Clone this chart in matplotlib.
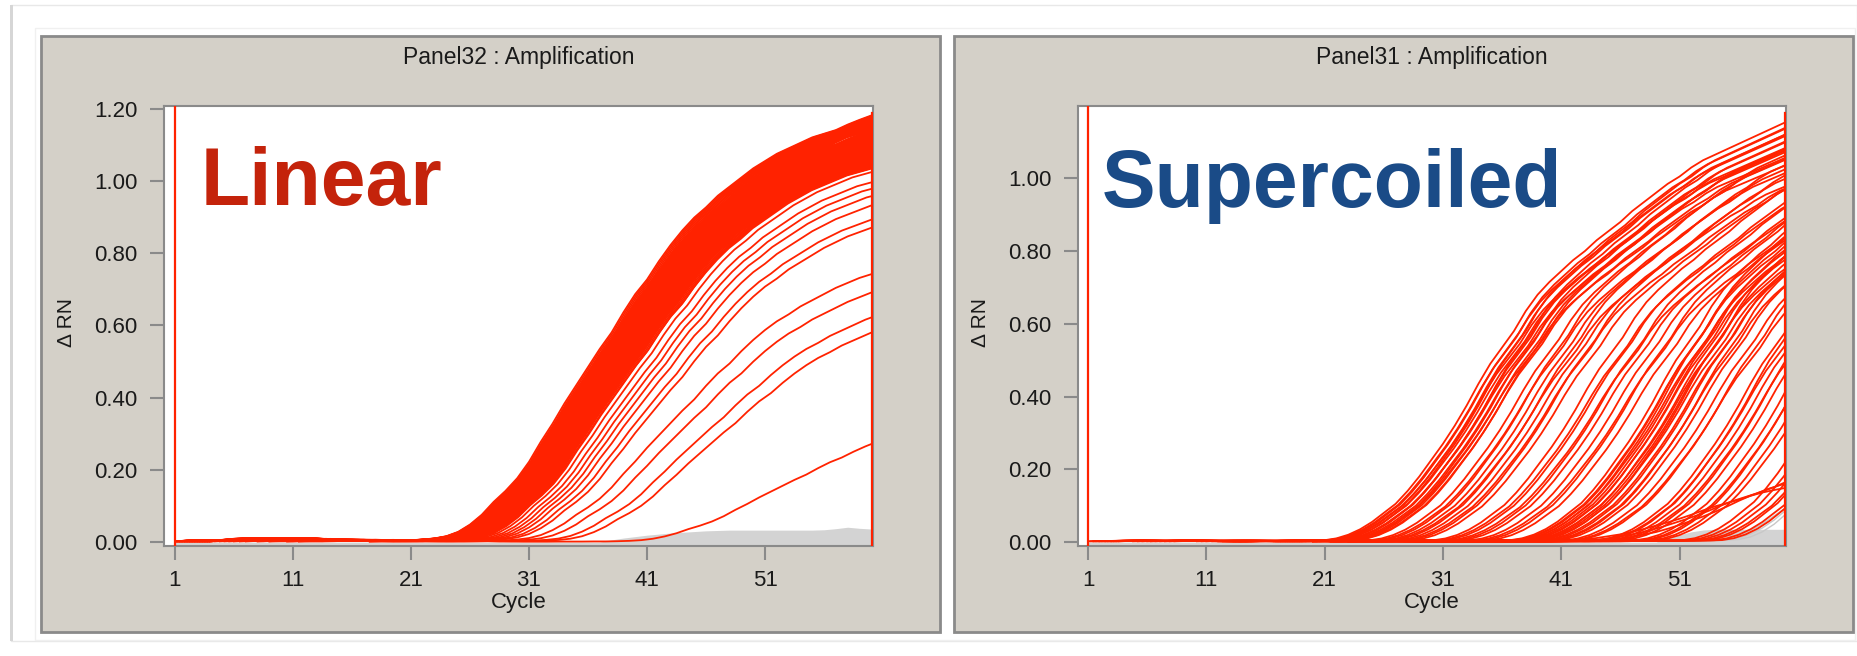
import numpy as np
import matplotlib.pyplot as plt
from matplotlib.patches import Rectangle

plt.rcParams['font.family'] = ['Liberation Sans', 'DejaVu Sans']

W, H = 1858, 656
cycles = np.arange(1, 61)

# earliest well of each plate, delta Rn at cycles 1..60
lin_curve = [0.002, 0.004, 0.003, 0.004, 0.006, 0.009, 0.010, 0.008, 0.009, 0.010,
             0.008, 0.005, 0.004, 0.003, 0.003, 0.003, 0.004, 0.004, 0.004, 0.005,
             0.005, 0.007, 0.010, 0.016, 0.028, 0.048, 0.075, 0.110, 0.140, 0.175,
             0.220, 0.275, 0.325, 0.380, 0.430, 0.480, 0.530, 0.575, 0.630, 0.680,
             0.720, 0.770, 0.815, 0.855, 0.890, 0.918, 0.950, 0.975, 1.000, 1.025,
             1.045, 1.065, 1.080, 1.095, 1.110, 1.120, 1.130, 1.145, 1.158, 1.170]
sc_curve = [0.002, 0.003, 0.003, 0.004, 0.004, 0.003, 0.003, 0.004, 0.004, 0.003,
            0.003, 0.002, 0.002, 0.003, 0.003, 0.003, 0.003, 0.004, 0.004, 0.004,
            0.005, 0.010, 0.020, 0.035, 0.055, 0.080, 0.105, 0.140, 0.180, 0.225,
            0.270, 0.320, 0.375, 0.435, 0.490, 0.535, 0.580, 0.635, 0.680, 0.715,
            0.745, 0.775, 0.800, 0.830, 0.855, 0.880, 0.910, 0.935, 0.960, 0.985,
            1.005, 1.030, 1.050, 1.065, 1.080, 1.095, 1.110, 1.125, 1.140, 1.155]

# upper edge of the undetermined (grey) wells
lin_gray = [0.0] * 37 + [0.006, 0.011, 0.015, 0.019, 0.022, 0.025, 0.027, 0.029, 0.031,
                         0.032, 0.033, 0.033, 0.033, 0.033, 0.033, 0.033, 0.033, 0.033,
                         0.034, 0.037, 0.041, 0.038, 0.036]
sc_gray = [0.0] * 49 + [0.010, 0.020, 0.028, 0.033, 0.035, 0.035, 0.035, 0.035, 0.035,
                        0.035, 0.035]

# linear plasmid: Ct offset (cycles) and plateau factor of each well
lin_band_shift = [0.0, 0.14, 0.28, 0.42, 0.56, 0.7, 0.84, 0.98, 1.12, 1.26, 1.4, 1.54,
                  1.68, 1.82, 1.96, 2.1, 2.24, 2.38, 2.52, 2.66, 2.8, 2.95]
lin_band_scale = [1.01, 0.975, 0.945, 0.915]
lin_late_shift = [3.1, 3.4, 3.8, 4.2, 4.6, 5.0, 5.5, 6.0, 7.0, 8.0, 9.5, 10.5, 16.5]
lin_late_scale = [0.925, 0.91, 0.888, 0.875, 0.86, 0.84, 0.81, 0.795, 0.687, 0.649,
                  0.601, 0.573, 0.325]

# supercoiled plasmid
sc_shift = [0.0, 0.2, 0.4, 0.5, 0.7, 0.9, 1.0, 1.2, 1.4, 1.5, 1.7, 1.9, 2.0, 2.2, 2.4, 2.6,
            3.8, 4.2, 4.6, 5.0, 5.3, 5.7, 6.1, 6.5, 6.9, 7.3,
            9.2, 9.6, 10.0, 10.5, 11.0, 11.4,
            12.3, 12.8, 13.3, 13.8,
            15.7, 15.9, 16.1, 16.3, 16.5, 16.7, 16.9, 17.1, 17.3, 17.5, 17.7, 17.9,
            18.1, 18.4, 18.7, 19.0, 19.3, 19.6,
            20.4, 20.8, 21.2,
            23.0, 23.3, 23.6, 24.0, 24.4, 24.8, 25.2,
            26.3, 26.7, 27.1, 27.6, 28.0,
            30.3, 30.8, 31.3, 31.8, 32.3,
            33.0, 33.6,
            19.0, 20.5, 22.0]
sc_scale = [1.0, 0.97, 0.99, 0.94, 0.98, 0.95, 1.0, 0.93, 0.97, 0.99, 0.95, 0.92, 0.98, 0.96, 0.94, 0.97,
            0.96, 0.93, 0.98, 0.95, 0.91, 0.97, 0.94, 0.92, 0.96, 0.93,
            0.97, 0.93, 0.95, 0.91, 0.96, 0.94,
            0.95, 0.92, 0.97, 0.94,
            1.02, 0.98, 1.0, 0.96, 1.03, 0.99, 0.97, 1.01, 0.95, 1.0, 0.98, 0.96,
            1.02, 0.97, 0.99, 0.95, 1.0, 0.97,
            0.96, 0.92, 0.98,
            1.0, 0.96, 1.02, 0.98, 0.95, 1.0, 0.97,
            1.0, 0.96, 1.02, 0.98, 0.95,
            1.05, 1.0, 0.98, 0.95, 1.02,
            1.0, 1.05,
            0.20, 0.23, 0.26]
sc_gray_shift = [33.0, 34.0, 35.0]
sc_gray_scale = [0.9, 1.1, 1.4]

xticks = [1, 11, 21, 31, 41, 51]
lin_yticks = [0.0, 0.2, 0.4, 0.6, 0.8, 1.0, 1.2]
sc_yticks = [0.0, 0.2, 0.4, 0.6, 0.8, 1.0]

RED = '#ff2200'
PANEL = '#d4d0c8'
EDGE = '#8a8a8a'
LW = 1.3


def px_rect(x0, y0, x1, y1):
    return [x0 / W, 1 - y1 / H, (x1 - x0) / W, (y1 - y0) / H]


def fig_box(x0, y0, x1, y1, **kw):
    r = px_rect(x0, y0, x1, y1)
    fig.add_artist(Rectangle((r[0], r[1]), r[2], r[3], transform=fig.transFigure,
                             zorder=-5, **kw))


fig = plt.figure(figsize=(W / 100, H / 100), dpi=100)
fig.patch.set_facecolor('white')

# card behind both panels
fig_box(11, 5, 1857, 641, facecolor='white', edgecolor='#e8e8e8', lw=1.0)
fig_box(10, 5, 13, 641, facecolor='#d6d6d6', edgecolor='none')
fig_box(35, 28, 1855, 640, facecolor='none', edgecolor='#f0f0f0', lw=1.0)


def panel(box, axbox, title, xlim, ylim, yticks, gray):
    fig_box(*box, facecolor=PANEL, edgecolor=EDGE, lw=2.0)
    ax = fig.add_axes(px_rect(*axbox))
    ax.set_facecolor('white')
    ax.fill_between(cycles, -0.02, gray, color='#d3d3d3', lw=0, zorder=1)
    ax.set_xlim(*xlim)
    ax.set_ylim(*ylim)
    ax.set_xticks(xticks)
    ax.set_yticks(yticks)
    ax.set_yticklabels(['%.2f' % v for v in yticks])
    ax.tick_params(direction='out', length=10, width=1.5, color=EDGE, labelsize=16,
                   labelcolor='#1a1a1a')
    ax.tick_params(axis='y', pad=9)
    ax.tick_params(axis='x', pad=7)
    for s in ax.spines.values():
        s.set_color(EDGE)
        s.set_linewidth(1.5)
    ax.set_title(title, fontsize=16.5, pad=30, color='#1a1a1a')
    ax.text(0.5, -0.1295, 'Cycle', transform=ax.transAxes, ha='center', va='center',
            fontsize=16, color='#1a1a1a')
    ax.text(-0.138, 0.507, '\u0394 RN', transform=ax.transAxes, rotation=90,
            ha='center', va='center', fontsize=15, color='#1a1a1a')
    ax.axvline(1, color=RED, lw=1.6, zorder=4)
    ax.axvline(xlim[1] - 0.06, ymax=0.985, color=RED, lw=1.6, zorder=4)
    return ax


ax1 = panel((41, 36, 940, 632), (164, 106, 873, 546), 'Panel32 : Amplification',
            (0.07, 60.15), (-0.011, 1.208), lin_yticks, lin_gray)
for s in lin_band_shift:
    for k in lin_band_scale:
        ax1.plot(cycles + s, np.array(lin_curve) * k, color=RED, lw=LW, zorder=3)
for s, k in zip(lin_late_shift, lin_late_scale):
    ax1.plot(cycles + s, np.array(lin_curve) * k, color=RED, lw=LW, zorder=3)
ax1.text(0.052, 0.775, 'Linear', transform=ax1.transAxes, ha='left', va='baseline',
         fontsize=58, fontweight='bold', color='#c4230b', zorder=5)

ax2 = panel((954, 36, 1853, 632), (1078, 106, 1786, 546), 'Panel31 : Amplification',
            (0.15, 60.0), (-0.011, 1.199), sc_yticks, sc_gray)
for s, k in zip(sc_gray_shift, sc_gray_scale):
    ax2.plot(cycles + s, np.array(sc_curve) * k, color='#c8c8c8', lw=1.0, zorder=2)
for s, k in zip(sc_shift, sc_scale):
    ax2.plot(cycles + s, np.array(sc_curve) * k, color=RED, lw=LW, zorder=3)
ax2.text(0.034, 0.770, 'Supercoiled', transform=ax2.transAxes, ha='left', va='baseline',
         fontsize=58, fontweight='bold', color='#1a4b87', zorder=5)

fig.savefig('out.png', dpi=100, facecolor='white')
